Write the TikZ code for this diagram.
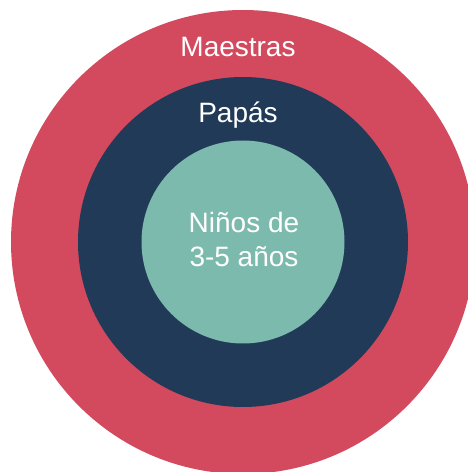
\documentclass[tikz,border=0pt]{standalone}
\usepackage{fontspec}
\setmainfont{Liberation Sans}
\usepackage{tikz}
\usetikzlibrary{positioning}
\definecolor{ringred}{HTML}{D34A5F}
\definecolor{ringnavy}{HTML}{213A58}
\definecolor{ringteal}{HTML}{7DBAAE}

\begin{document}
\begin{tikzpicture}[
    x=1pt, y=1pt,
    ring/.style={circle, inner sep=0pt, draw=none},
    label/.style={text=white, font=\fontsize{28}{34}\selectfont, inner sep=0pt, align=center},
]
\useasboundingbox (0,0) rectangle (468,472);

% Concentric circles
\node[ring, fill=ringred, minimum size=464pt] (outer) at (243,230) {};
\node[ring, fill=ringnavy, minimum size=330pt] (middle) at (243,230) {};
\node[ring, fill=ringteal, minimum size=203pt] (inner) at (243,230) {};

% Labels
\node[label, anchor=base] (maestras) at (238,415) {Maestras};
\node[label, anchor=base] (papas) at (238,349) {Papás};
\node[label] (ninos) at (244,233) {Niños de\\3-5 años};

\end{tikzpicture}
\end{document}
